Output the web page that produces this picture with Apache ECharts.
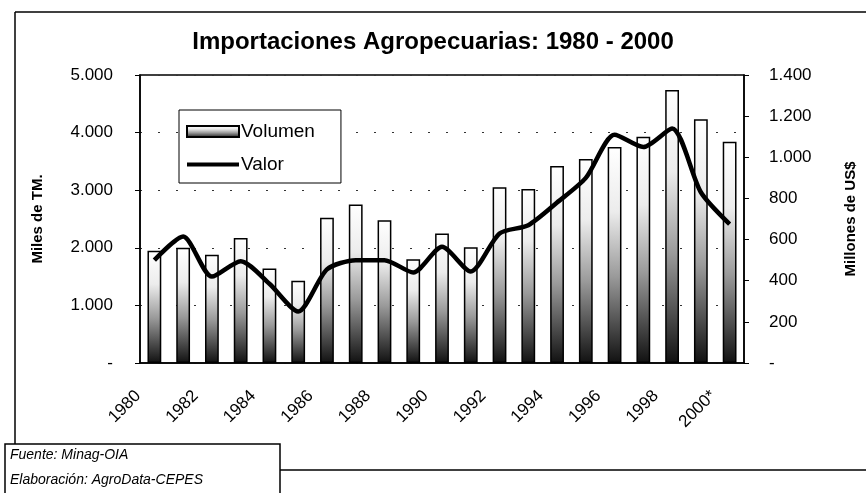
<!DOCTYPE html>
<html>
<head>
<meta charset="utf-8">
<script src="https://cdn.jsdelivr.net/npm/echarts@6/dist/echarts.min.js"></script>
<style>
  html, body { margin: 0; padding: 0; background: #fff; }
  #chart { width: 866px; height: 493px; }
</style>
</head>
<body>
<div id="chart"></div>
<script>
// datos
const years = ['1980', '1981', '1982', '1983', '1984', '1985', '1986', '1987', '1988', '1989',
  '1990', '1991', '1992', '1993', '1994', '1995', '1996', '1997', '1998', '1999', '2000*']
// miles de TM
const volumen = [1950, 2000, 1880, 2170, 1640, 1430, 2520, 2750, 2480, 1800,
  2250, 2010, 3050, 3020, 3420, 3540, 3750, 3930, 4740, 4230, 3840]
// millones de US$
const valor = [500, 615, 420, 495, 385, 250, 455, 500, 500, 440,
  565, 445, 630, 670, 780, 900, 1110, 1050, 1140, 830, 675]

const font = 'Liberation Sans'

// separador de miles con punto, cero como guion
function fmt (v) {
  if (v === 0) return '-'
  return String(v).replace(/\B(?=(\d{3})+(?!\d))/g, '.')
}

let myChart = echarts.init(document.getElementById('chart'))

myChart.setOption({
  animation: false,
  backgroundColor: '#fff',
  textStyle: { fontFamily: font, color: '#000' },
  title: {
    text: 'Importaciones Agropecuarias: 1980 - 2000',
    left: 'center',
    top: 25,
    textStyle: { fontFamily: font, fontSize: 24, fontWeight: 'bold', color: '#000' }
  },
  legend: {
    orient: 'vertical',
    left: 179,
    top: 110,
    padding: [12, 26, 9, 7],
    itemGap: 14,
    itemWidth: 52,
    itemHeight: 11,
    borderColor: '#000',
    borderWidth: 1,
    backgroundColor: '#fff',
    textStyle: { fontFamily: font, fontSize: 19, color: '#000', padding: [0, 0, 0, -3] },
    data: [
      { name: 'Volumen', icon: 'rect' },
      { name: 'Valor', icon: 'path://M0,0 L52,0 L52,4 L0,4 Z' }
    ]
  },
  grid: {
    left: 140,
    right: 119,
    top: 75,
    bottom: 130,
    show: true,
    borderColor: '#000',
    borderWidth: 1.5
  },
  xAxis: {
    type: 'category',
    data: years,
    axisLine: { lineStyle: { color: '#000', width: 1.5 } },
    axisTick: { interval: 0, length: 6, lineStyle: { color: '#000', width: 1.2 } },
    axisLabel: {
      interval: 1,
      rotate: 45,
      margin: 14,
      padding: [0, 23, 0, 0],
      fontSize: 17,
      color: '#000'
    }
  },
  yAxis: [
    {
      type: 'value',
      min: 0,
      max: 5000,
      interval: 1000,
      name: 'Miles de TM.',
      nameLocation: 'middle',
      nameGap: 95,
      nameTextStyle: { fontFamily: font, fontSize: 15, fontWeight: 'bold', color: '#000' },
      axisLine: { show: true, lineStyle: { color: '#000', width: 1.5 } },
      axisTick: { show: true, length: 5, lineStyle: { color: '#000' } },
      axisLabel: { formatter: fmt, margin: 27, fontSize: 17, color: '#000' },
      splitLine: { show: true, lineStyle: { color: '#333', type: [2, 16], width: 1.2 } }
    },
    {
      type: 'value',
      min: 0,
      max: 1400,
      interval: 200,
      name: 'Millones de US$',
      nameLocation: 'middle',
      nameGap: 99,
      nameRotate: 90,
      nameTextStyle: { fontFamily: font, fontSize: 15, fontWeight: 'bold', color: '#000' },
      axisLine: { show: true, lineStyle: { color: '#000', width: 1.5 } },
      axisTick: { show: true, length: 5, lineStyle: { color: '#000' } },
      axisLabel: { formatter: fmt, margin: 25, fontSize: 17, color: '#000' },
      splitLine: { show: false }
    }
  ],
  series: [
    {
      name: 'Volumen',
      type: 'bar',
      yAxisIndex: 0,
      barWidth: '48%',
      itemStyle: {
        color: new echarts.graphic.LinearGradient(0, 0, 0, 1, [
          { offset: 0, color: '#ffffff' },
          { offset: 0.3, color: '#ececec' },
          { offset: 0.6, color: '#9a9a9a' },
          { offset: 0.85, color: '#444444' },
          { offset: 1, color: '#111111' }
        ]),
        borderColor: '#000',
        borderWidth: 1.5
      },
      data: volumen
    },
    {
      name: 'Valor',
      type: 'line',
      yAxisIndex: 1,
      smooth: 0.25,
      symbol: 'none',
      lineStyle: { color: '#000', width: 4.5 },
      itemStyle: { color: '#000' },
      data: valor
    }
  ],
  // marco exterior y recuadro de fuente
  graphic: [
    { type: 'line', shape: { x1: 15, y1: 12, x2: 866, y2: 12 }, style: { stroke: '#000', lineWidth: 1.5 } },
    { type: 'line', shape: { x1: 15, y1: 12, x2: 15, y2: 445 }, style: { stroke: '#000', lineWidth: 1.5 } },
    { type: 'line', shape: { x1: 280, y1: 470, x2: 866, y2: 470 }, style: { stroke: '#000', lineWidth: 1.5 } },
    {
      type: 'rect',
      shape: { x: 5, y: 444, width: 275, height: 52 },
      style: { fill: '#fff', stroke: '#000', lineWidth: 1.5 }
    },
    {
      type: 'text',
      left: 10,
      top: 448,
      style: { text: 'Fuente: Minag-OIA', font: 'italic 14px "Liberation Sans"', fill: '#000' }
    },
    {
      type: 'text',
      left: 10,
      top: 473,
      style: { text: 'Elaboración: AgroData-CEPES', font: 'italic 14px "Liberation Sans"', fill: '#000' }
    }
  ]
})
</script>
</body>
</html>
